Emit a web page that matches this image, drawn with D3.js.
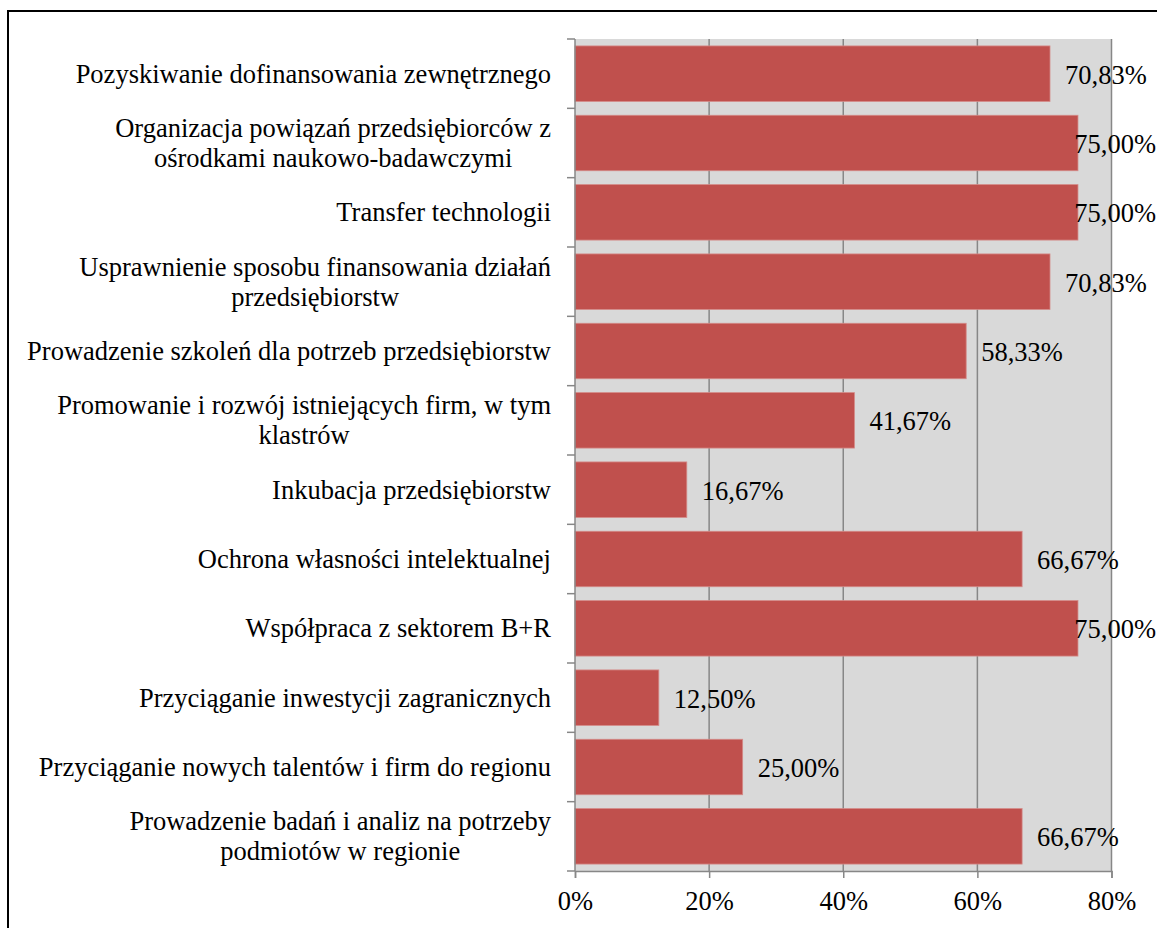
<!DOCTYPE html>
<html>
<head>
<meta charset="utf-8">
<script src="https://cdn.jsdelivr.net/npm/d3@7"></script>
<style>
  html, body { margin: 0; padding: 0; background: #fff; }
  svg { display: block; }
  text { font-family: "Liberation Serif", "Times New Roman", serif; fill: #000; }
</style>
</head>
<body>
<script>
// ---- Data ----
const categories = [
  ["Pozyskiwanie dofinansowania zewnętrznego"],
  ["Organizacja powiązań przedsiębiorców z", "ośrodkami naukowo-badawczymi"],
  ["Transfer technologii"],
  ["Usprawnienie sposobu finansowania działań", "przedsiębiorstw"],
  ["Prowadzenie szkoleń dla potrzeb przedsiębiorstw"],
  ["Promowanie i rozwój istniejących firm, w tym", "klastrów"],
  ["Inkubacja przedsiębiorstw"],
  ["Ochrona własności intelektualnej"],
  ["Współpraca z sektorem B+R"],
  ["Przyciąganie inwestycji zagranicznych"],
  ["Przyciąganie nowych talentów i firm do regionu"],
  ["Prowadzenie badań i analiz na potrzeby", "podmiotów w regionie"]
];
const values = [70.83, 75.00, 75.00, 70.83, 58.33, 41.67, 16.67, 66.67, 75.00, 12.50, 25.00, 66.67];
const xTicks = [0, 20, 40, 60, 80];
const valueLabels = ["70,83%", "75,00%", "75,00%", "70,83%", "58,33%", "41,67%", "16,67%", "66,67%", "75,00%", "12,50%", "25,00%", "66,67%"];

// ---- Layout ----
const W = 1157, H = 928;
const plot = { left: 575, right: 1111.5, top: 39, bottom: 871 };
const fontSize = 26.5;

const svg = d3.select("body").append("svg").attr("width", W).attr("height", H);

// outer frame
svg.append("rect")
  .attr("x", 8).attr("y", 11).attr("width", W + 10).attr("height", H + 10)
  .attr("fill", "none").attr("stroke", "#000").attr("stroke-width", 2);

const x = d3.scaleLinear().domain([0, 80]).range([plot.left, plot.right]);
const y = d3.scaleBand().domain(d3.range(categories.length))
  .range([plot.top, plot.bottom]).paddingInner(0.2).paddingOuter(0.1);
const yBand = d3.scaleBand().domain(d3.range(categories.length))
  .range([plot.top, plot.bottom]);

// plot background
svg.append("rect")
  .attr("x", plot.left).attr("y", plot.top)
  .attr("width", plot.right - plot.left).attr("height", plot.bottom - plot.top)
  .attr("fill", "#d9d9d9");

// gridlines
svg.append("g").selectAll("line").data(xTicks.filter(d => d > 0)).join("line")
  .attr("x1", d => x(d)).attr("x2", d => x(d))
  .attr("y1", plot.top).attr("y2", plot.bottom)
  .attr("stroke", "#878787").attr("stroke-width", 1.5);

// bars
svg.append("g").selectAll("rect").data(values).join("rect")
  .attr("x", x(0))
  .attr("y", (d, i) => y(i))
  .attr("width", d => x(d) - x(0))
  .attr("height", y.bandwidth())
  .attr("fill", "#c0504d")
  .attr("stroke", "#d48a88").attr("stroke-width", 0.8);

// y axis line + ticks at band boundaries
const axisColor = "#878787";
svg.append("line")
  .attr("x1", plot.left).attr("x2", plot.left)
  .attr("y1", plot.top).attr("y2", plot.bottom)
  .attr("stroke", axisColor).attr("stroke-width", 1.5);
const boundaries = d3.range(categories.length + 1).map(i => i < categories.length ? yBand(i) : plot.bottom);
svg.append("g").selectAll("line").data(boundaries).join("line")
  .attr("x1", plot.left - 8).attr("x2", plot.left)
  .attr("y1", d => d).attr("y2", d => d)
  .attr("stroke", axisColor).attr("stroke-width", 1.5);

// x axis
const xAxis = d3.axisBottom(x).tickValues(xTicks).tickFormat(d => d + "%")
  .tickSize(7).tickPadding(13);
const gx = svg.append("g").attr("transform", `translate(0,${plot.bottom})`).call(xAxis);
gx.select(".domain").attr("stroke", axisColor).attr("stroke-width", 1.5);
gx.selectAll(".tick line").attr("stroke", axisColor).attr("stroke-width", 1.5);
gx.selectAll(".tick text")
  .attr("font-family", "Liberation Serif, Times New Roman, serif")
  .attr("font-size", fontSize).attr("fill", "#000");

// category labels
const labelRight = 551;
const lineH = 30;
categories.forEach((lines, i) => {
  const cy = yBand(i) + yBand.bandwidth() / 2;
  const g = svg.append("g");
  const texts = lines.map((t, k) => g.append("text")
    .attr("font-size", fontSize)
    .attr("text-anchor", "middle")
    .attr("dominant-baseline", "central")
    .attr("y", cy + (k - (lines.length - 1) / 2) * lineH)
    .text(t));
  const maxW = d3.max(texts, t => t.node().getComputedTextLength());
  texts.forEach(t => t.attr("x", labelRight - maxW / 2));
});

// value labels
svg.append("g").selectAll("text").data(values).join("text")
  .attr("font-size", fontSize)
  .attr("dominant-baseline", "central")
  .attr("y", (d, i) => y(i) + y.bandwidth() / 2 + 1)
  .text((d, i) => valueLabels[i])
  .each(function(d) {
    const w = this.getComputedTextLength();
    const px = Math.min(x(d) + 15, W - 1 - w);
    d3.select(this).attr("x", px);
  });
</script>
</body>
</html>
